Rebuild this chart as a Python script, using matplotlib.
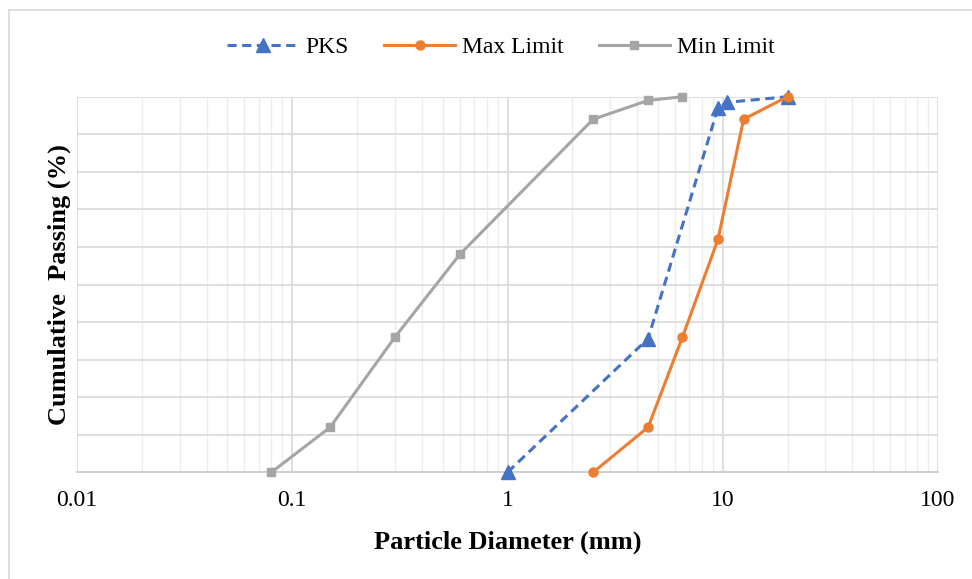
import matplotlib
matplotlib.use("Agg")
import matplotlib.pyplot as plt
from matplotlib.lines import Line2D
from matplotlib.ticker import LogLocator, NullFormatter, FixedLocator

plt.rcParams['font.family'] = ['Liberation Serif', 'DejaVu Serif']

# Data
pks_x = [1, 4.5, 9.5, 10.5, 20]
pks_y = [0, 35.6, 97, 98.5, 100]
max_x = [2.5, 4.5, 6.5, 9.5, 12.5, 20]
max_y = [0, 12, 36, 62, 94, 100]
min_x = [0.08, 0.15, 0.3, 0.6, 2.5, 4.5, 6.5]
min_y = [0, 12, 36, 58, 94, 99, 100]

xticks = [0.01, 0.1, 1, 10, 100]
xtick_labels = ["0.01", "0.1", "1", "10", "100"]

W, H = 972, 579
fig = plt.figure(figsize=(W / 100, H / 100), dpi=100)
ax = fig.add_axes([77 / W, 1 - 472.3 / H, (938 - 77) / W, (472.3 - 96.7) / H])

ax.set_xscale('log')
ax.set_xlim(0.01, 100)
ax.set_ylim(0, 100)

ax.xaxis.set_major_locator(FixedLocator(xticks))
ax.set_xticklabels(xtick_labels)
ax.xaxis.set_minor_locator(LogLocator(base=10, subs=range(2, 10)))
ax.xaxis.set_minor_formatter(NullFormatter())
ax.set_yticks(range(0, 101, 10))
ax.set_yticklabels([])

ax.grid(True, which='major', color='#d9d9d9', linewidth=1.2)
ax.grid(True, which='minor', axis='x', color='#ececec', linewidth=1.0)
ax.set_axisbelow(True)
ax.tick_params(which='both', length=0, labelsize=17, pad=13)
ax.tick_params(axis='y', pad=0)
for s in ['top', 'right', 'left']:
    ax.spines[s].set_visible(False)
ax.spines['bottom'].set_color('#d0d0d0')
ax.spines['bottom'].set_linewidth(1.4)

ax.plot(pks_x, pks_y, color='#4472C4', linestyle=(0, (3, 1.8)), linewidth=2.2,
        marker='^', markersize=10.5, label='PKS', clip_on=False, zorder=3)
ax.plot(max_x, max_y, color='#ED7D31', linewidth=2.2, marker='o', markersize=6.5,
        label='Max Limit', clip_on=False, zorder=3)
ax.plot(min_x, min_y, color='#A5A5A5', linewidth=2.2, marker='s', markersize=5.5,
        label='Min Limit', clip_on=False, zorder=3)

ax.set_xlabel('Particle Diameter (mm)', fontsize=19, fontweight='bold', labelpad=14)
ax.set_ylabel('Cumulative  Passing (%)', fontsize=19, fontweight='bold', labelpad=4)

leg = fig.legend(loc='center', bbox_to_anchor=(501 / W, 1 - 47 / H), ncol=3,
                 frameon=False, fontsize=17, handlelength=3.0, columnspacing=1.5,
                 handletextpad=0.3)

# chart area border
fig.add_artist(Line2D([9 / W, 1], [1 - 9.5 / H, 1 - 9.5 / H], color='#d9d9d9', linewidth=1.2))
fig.add_artist(Line2D([9 / W, 9 / W], [0, 1 - 9.5 / H], color='#d9d9d9', linewidth=1.2))

fig.savefig('out.png', dpi=100)
